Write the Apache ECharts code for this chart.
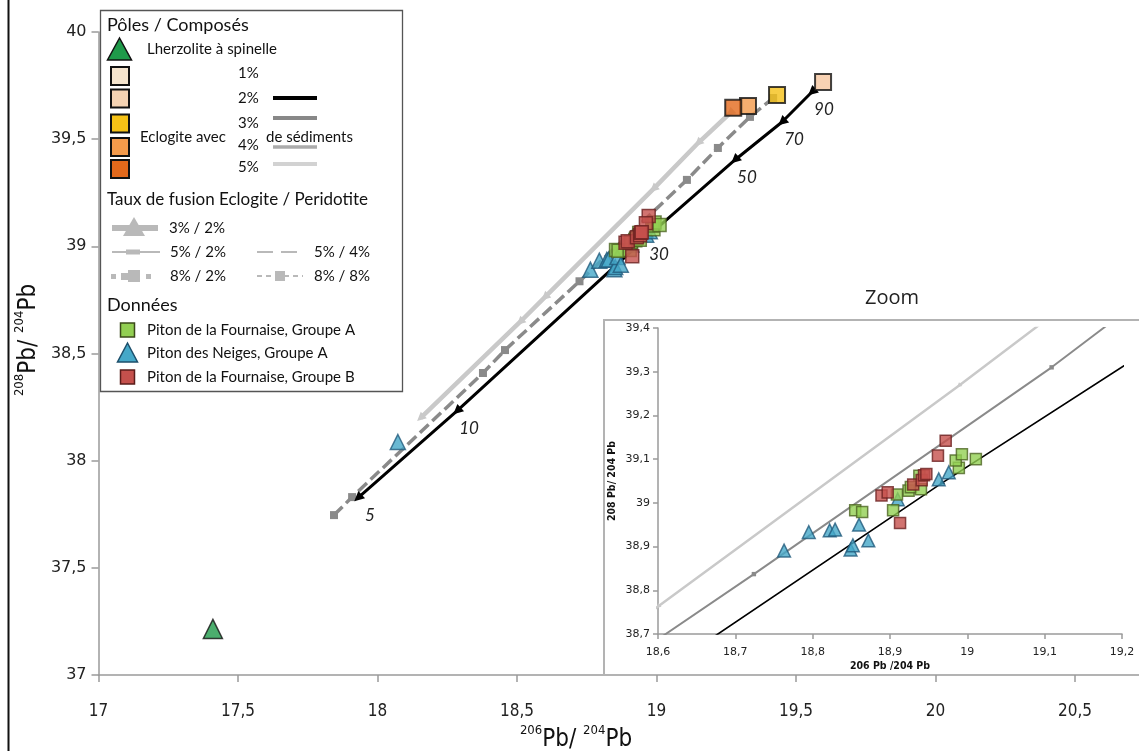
<!DOCTYPE html>
<html><head><meta charset="utf-8">
<script src="https://cdn.jsdelivr.net/npm/echarts/dist/echarts.min.js"></script>
<style>html,body{margin:0;padding:0;background:#fff}#c{width:1139px;height:751px}</style>
</head><body><div id="c"></div><script>
// ---------- DATA ----------
// 2 % sediment curve (black), melt proportions labelled along it
const curve2pct = [[17.930,37.826],[18.285,38.232],[18.966,39.044],[19.281,39.403],[19.450,39.580],[19.557,39.720]];
const curve2pctLabels = ['5','10','30','50','70','90'];
// 3 % sediment curve (dark grey)
const curve3pct = [[17.844,37.746],[17.909,37.830],[18.378,38.409],[18.457,38.516],[18.724,38.837],[19.109,39.310],[19.220,39.459],[19.335,39.604],[19.418,39.692]];
// 5 % sediment curve (light grey)
const curve5pct = [[18.154,38.199],[18.511,38.647],[18.600,38.763],[18.989,39.268],[19.149,39.482],[19.264,39.622]];
// end-members
const lherzolite = [[17.410,37.215]];
const eclogitePoles = [[19.597,39.767],[19.432,39.706],[19.328,39.655],[19.275,39.646]];
const eclogiteNames = ['2%','3%','4%','5%'];
// data
const pnGroupA = [[18.763,38.891],[18.795,38.933],[18.822,38.937],[18.829,38.939],[18.849,38.893],[18.852,38.903],[18.860,38.950],[18.872,38.914],[18.910,39.008],[18.963,39.054],[18.976,39.070],[18.073,38.087]];
const pfGroupA = [[18.855,38.983],[18.864,38.979],[18.904,38.983],[18.909,39.019],[18.924,39.028],[18.927,39.036],[18.940,39.031],[18.938,39.062],[18.989,39.080],[18.985,39.097],[18.993,39.111],[19.011,39.100]];
const pfGroupB = [[18.972,39.142],[18.962,39.108],[18.889,39.017],[18.897,39.024],[18.913,38.954],[18.930,39.042],[18.941,39.052],[18.944,39.063],[18.947,39.066]];
// legend texts
const legendSediments = ['1%','2%','3%','4%','5%'];
const legendMelt = ['3% / 2%','5% / 2%','5% / 4%','8% / 2%','8% / 8%'];
const legendData = ['Piton de la Fournaise, Groupe A','Piton des Neiges, Groupe A','Piton de la Fournaise, Groupe B'];

// ---------- STYLE ----------
const F = 'Lato, "Open Sans", sans-serif';
const FT = '"DejaVu Sans", Verdana, sans-serif';
const FN = '"Liberation Sans Narrow", "DejaVu Sans Condensed", sans-serif';
const poleColors = ['#f6c7a0','#f5c116','#f39a4b','#e3691b'];
const fmt = v => String(Math.round(v*10)/10).replace('.', ',');

const chart = echarts.init(document.getElementById('c'), null, {renderer:'canvas'});

function axisX(gi, min, max, interval, fontSize, family, margin, tick) {
  return {type:'value', gridIndex:gi, min, max, interval,
    axisLine:{show:true, lineStyle:{color:'#9a9a9a', width:1.5}},
    axisTick:{show:true, length:tick, lineStyle:{color:'#9a9a9a', width:1.5}},
    splitLine:{show:false},
    axisLabel:{formatter:fmt, fontSize, fontFamily:family, color:'#222', margin, showMaxLabel: gi===1}};
}
function axisY(gi, min, max, interval, fontSize, family, margin, tick) {
  return {type:'value', gridIndex:gi, min, max, interval,
    axisLine:{show:true, lineStyle:{color:'#9a9a9a', width:1.5}},
    axisTick:{show:true, length:tick, lineStyle:{color:'#9a9a9a', width:1.5}},
    splitLine:{show:false},
    axisLabel:{formatter:fmt, fontSize, fontFamily:family, color:'#222', margin}};
}

function curves(gi, big) {
  const k = big ? 1 : 0.55;
  return [
    {type:'line', xAxisIndex:gi, yAxisIndex:gi, data:curve5pct, z:2,
      lineStyle:{color:'#c9c9c9', width:4.5*k}, itemStyle:{color:'#c9c9c9'},
      symbol:'triangle', symbolSize:9*k, symbolRotate:132},
    {type:'line', xAxisIndex:gi, yAxisIndex:gi, data:curve3pct, z:3,
      lineStyle:{color:'#8a8a8a', width:3.5*k, type: big ? [12,5] : 'solid'}, itemStyle:{color:'#8a8a8a'},
      symbol:'rect', symbolSize:8*k},
    {type:'line', xAxisIndex:gi, yAxisIndex:gi, z:4,
      data: curve2pct.map((p,i)=>({value:p, label:{show:big, formatter:curve2pctLabels[i]}})),
      lineStyle:{color:'#000', width:3*k}, itemStyle:{color:'#000'},
      symbol:'triangle', symbolSize:10*k, symbolRotate:132,
      label:{show:big, position:'bottom', distance:2, offset:[12,0], fontFamily:F, fontStyle:'italic', fontSize:17, color:'#222'}}
  ];
}
function points(gi, big) {
  const s = big ? 1 : 0.85;
  return [
    {type:'scatter', xAxisIndex:gi, yAxisIndex:gi, data:pnGroupA, z:5, symbol:'triangle', symbolSize:15*s,
      itemStyle:{color:'#45a8c8', borderColor:'#205a7c', borderWidth:1.5}},
    {type:'scatter', xAxisIndex:gi, yAxisIndex:gi, data:pfGroupA, z:6, symbol:'rect', symbolSize:13*s,
      itemStyle:{color:'#92cf52', borderColor:'#4c6422', borderWidth:1.5}},
    {type:'scatter', xAxisIndex:gi, yAxisIndex:gi, data:pfGroupB, z:7, symbol:'rect', symbolSize:13*s,
      itemStyle:{color:'#c5504c', borderColor:'#6b2120', borderWidth:1.5}}
  ];
}

const series = [
  ...curves(0, true),
  ...points(0, true),
  {type:'scatter', xAxisIndex:0, yAxisIndex:0, data:lherzolite, z:6, symbol:'triangle', symbolSize:19,
    itemStyle:{color:'#1f9a4a', borderColor:'#111', borderWidth:1.5}},
  {type:'scatter', xAxisIndex:0, yAxisIndex:0, z:8, symbol:'rect', symbolSize:16,
    data: eclogitePoles.map((p,i)=>({value:p, name:eclogiteNames[i], itemStyle:{color:poleColors[i]}})),
    itemStyle:{borderColor:'#111', borderWidth:2}},
  ...curves(1, false),
  ...points(1, false)
];

// ---------- GRAPHIC (legend, frame, titles) ----------
const G = [];
function txt(x, y, text, size, extra) {
  G.push({type:'text', x, y, z:30, style:Object.assign({text, fontSize:size, fontFamily:F, fill:'#111', align:'left', verticalAlign:'middle'}, extra||{})});
}
function rect(x, y, w, h, fill, stroke, lw) {
  G.push({type:'rect', z:30, shape:{x, y, width:w, height:h}, style:{fill, stroke:stroke||null, lineWidth:lw||0}});
}
function seg(x1, y1, x2, y2, stroke, lw, dash) {
  G.push({type:'line', z:30, shape:{x1, y1, x2, y2}, style:{stroke, lineWidth:lw, lineDash:dash||null}});
}
function tri(cx, top, w, h, fill, stroke, lw) {
  G.push({type:'polygon', z:30, shape:{points:[[cx, top],[cx-w/2, top+h],[cx+w/2, top+h]]}, style:{fill, stroke:stroke||null, lineWidth:lw||0}});
}
// frame line
seg(8.5, 0, 8.5, 751, '#111', 2);
// inset frame
G.push({type:'polyline', z:1, shape:{points:[[604,675],[604,320],[1139,320]]}, style:{stroke:'#b3b3b3', lineWidth:2, fill:null}});
// legend box
G.push({type:'rect', z:25, shape:{x:100.5, y:10.5, width:302, height:381}, style:{fill:'#fff', stroke:'#555', lineWidth:1.3}});
txt(107, 25, 'Pôles / Composés', 18);
tri(119.5, 38, 24, 22, '#1f9a4a', '#111', 1.5);
txt(147, 49, 'Lherzolite à spinelle', 15);
const sqY = [76, 98.5, 123.5, 147, 169];
const sqC = ['#f4e4cd','#f4d2b2','#f5c116','#f39a4b','#e3691b'];
sqY.forEach((cy,i)=>rect(111, cy-9, 18, 18, sqC[i], '#111', 2));
const pctY = [73, 98, 123, 145, 167];
legendSediments.forEach((t,i)=>txt(238, pctY[i], t, 15));
seg(273, 98, 317, 98, '#000', 4);
seg(273, 118, 317, 118, '#888', 4);
seg(273, 147, 317, 147, '#ababab', 3.5);
seg(273, 164, 317, 164, '#d2d2d2', 4);
txt(140, 137, 'Eclogite avec', 15);
txt(266, 137, 'de sédiments', 15);
txt(107, 200, 'Taux de fusion Eclogite / Peridotite', 17);
const lg = '#b9b9b9';
seg(112, 228, 158, 228, lg, 6); tri(134, 217, 22, 19, lg);
txt(169, 228, legendMelt[0], 15);
seg(112, 252, 160, 252, lg, 2); rect(126, 249.5, 14, 5, lg);
txt(170, 252, legendMelt[1], 15);
seg(257, 252, 303, 252, lg, 2, [16, 8]);
txt(314, 252, legendMelt[2], 15);
rect(111, 274, 5, 5, lg); rect(121, 273, 7, 7, lg); rect(128, 270, 12, 12, lg); rect(146, 274, 5, 5, lg);
txt(170, 276, legendMelt[3], 15);
seg(257, 276, 303, 276, lg, 2, [5, 4]); rect(275, 271, 10, 10, lg);
txt(314, 276, legendMelt[4], 15);
txt(107, 305, 'Données', 18);
rect(120.5, 323, 14, 14, '#92cf52', '#3b4a1a', 1.5);
txt(147, 330, legendData[0], 15);
tri(127.5, 343, 20, 19, '#45a8c8', '#1d4f6b', 1.5);
txt(147, 353, legendData[1], 15);
rect(120.5, 370, 14, 14, '#c5504c', '#5a1c1a', 1.5);
txt(147, 377, legendData[2], 15);
// axis titles (main)
const richT = {s:{fontSize:13, fontFamily:FN, verticalAlign:'top', lineHeight:28, fill:'#111'},
               b:{fontSize:24, fontFamily:FN, verticalAlign:'bottom', lineHeight:28, fill:'#111'}};
G.push({type:'text', x:576, y:738, z:30, style:{text:'{s|206}{b|Pb/ }{s|204}{b|Pb}', rich:richT, align:'center', verticalAlign:'middle'}});
G.push({type:'text', x:27, y:340, rotation:Math.PI/2, z:30, style:{text:'{s|208}{b|Pb/ }{s|204}{b|Pb}', rich:richT, align:'center', verticalAlign:'middle'}});
// inset titles
txt(892, 298, 'Zoom', 20, {align:'center', fontFamily:'"Open Sans", sans-serif', fill:'#222'});
txt(890, 666, '206 Pb /204 Pb', 10.5, {align:'center', fontFamily:FN, fontWeight:'bold'});
G.push({type:'text', x:612, y:481, rotation:Math.PI/2, z:30, style:{text:'208 Pb/ 204 Pb', fontSize:10.5, fontFamily:FN, fontWeight:'bold', fill:'#111', align:'center', verticalAlign:'middle'}});

const option = {
  animation:false,
  backgroundColor:'#fff',
  grid:[
    {left:98.5, top:32, right:0, height:643},
    {left:658, top:328, width:464, height:306}
  ],
  xAxis:[
    axisX(0, 17, 17 + 1040.5/279, 0.5, 17, '"DejaVu Sans Condensed", "DejaVu Sans", sans-serif', 28, 7),
    axisX(1, 18.6, 19.2, 0.1, 11, FT, 13, 5)
  ],
  yAxis:[
    axisY(0, 37, 40, 0.5, 16, FT, 12, 7),
    axisY(1, 38.7, 39.4, 0.1, 11, FT, 8, 5)
  ],
  series,
  graphic:G
};
chart.setOption(option);
</script></body></html>
